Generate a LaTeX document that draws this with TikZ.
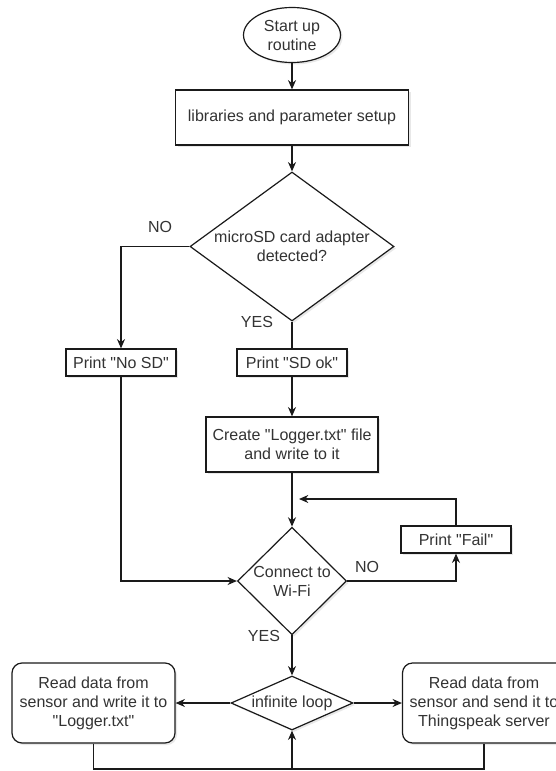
\documentclass[tikz,border=0pt]{standalone}
\usepackage{fontspec}
\setmainfont{Liberation Sans}
\usetikzlibrary{shapes,arrows.meta,positioning,shadows}

\definecolor{linegray}{HTML}{1A1A1A}
\definecolor{textgray}{HTML}{333333}
\newcommand{\dq}{\textquotedbl{}}

\begin{document}
\begin{tikzpicture}[x=0.75pt, y=-0.75pt,
	every node/.style={align=center, inner sep=0pt, text=textgray, font=\fontsize{12}{14.25}\selectfont},
	box/.style={rectangle, draw=linegray, fill=white, line width=0.9pt, drop shadow={shadow xshift=1.5pt, shadow yshift=-1.5pt, opacity=0.18}},
	link/.style={draw=linegray, line width=0.9pt},
	flow/.style={link, -{Stealth[length=7pt, width=6pt]}}]
	\clip (0,0) rectangle (556,771);

	% Setup
	\node[box, ellipse, minimum width=72.75pt, minimum height=41.25pt] (start) at (292,35) {Start up\\routine};
	\node[box, minimum width=174.75pt, minimum height=41.25pt] (setup) at (292,117.5) {libraries and parameter setup};
	\node[box, diamond, aspect=1.37, minimum width=153pt, minimum height=111.75pt] (sdcheck) at (292,246.5) {microSD card adapter\\detected?};

	% SD card
	\node[box, minimum width=82.5pt, minimum height=20.25pt] (nosd) at (121,362.5) {Print \dq No SD\dq};
	\node[box, minimum width=82.5pt, minimum height=20.25pt] (sdok) at (292,362.5) {Print \dq SD ok\dq};
	\node[box, minimum width=129pt, minimum height=41.25pt] (create) at (292,444.5) {Create \dq Logger.txt\dq{} file\\and write to it};

	% Wi-Fi
	\node[box, diamond, aspect=1, minimum width=81.75pt, minimum height=79.5pt] (wifi) at (292,581) {Connect to\\Wi-Fi};
	\node[box, minimum width=82.5pt, minimum height=20.25pt] (fail) at (456,539.5) {Print \dq Fail\dq};

	% Loop
	\node[box, diamond, aspect=2.26, minimum width=91.5pt, minimum height=40.5pt] (loop) at (292,703) {infinite loop};
	\node[box, rounded corners=7.5pt, minimum width=122.25pt, minimum height=60pt] (logsd) at (93.5,703) {Read data from\\sensor and write it to\\\dq Logger.txt\dq};
	\node[box, rounded corners=7.5pt, minimum width=122.25pt, minimum height=60pt] (logts) at (484,703) {Read data from\\sensor and send it to\\Thingspeak server};

	% Labels
	\node (no1) at (160,227) {NO};
	\node (yes1) at (257,322) {YES};
	\node (no2) at (367,567) {NO};
	\node (yes2) at (264,636) {YES};

	% Connections
	\draw[flow] (start) -- (setup);
	\draw[flow] (setup) -- (sdcheck);
	\draw[flow] (sdcheck.west) -| (nosd.north);
	\draw[link] (sdcheck.south) -- (sdok.north);
	\draw[flow] (sdok) -- (create);
	\draw[flow] (create) -- (wifi);
	\draw[flow] (nosd.south) |- (wifi.west);
	\draw[flow] (wifi.east) -| (fail.south);
	\coordinate (retry) at (299,499);
	\draw[flow] (fail.north) |- (retry);
	\draw[flow] (wifi) -- (loop);
	\draw[flow] (loop.west) -- (logsd.east);
	\draw[flow] (loop.east) -- (logts.west);
	\coordinate (base) at (292,769);
	\draw[link] (logsd.south) |- (base) -| (logts.south);
	\draw[flow] (base) -- (loop.south);
\end{tikzpicture}
\end{document}
